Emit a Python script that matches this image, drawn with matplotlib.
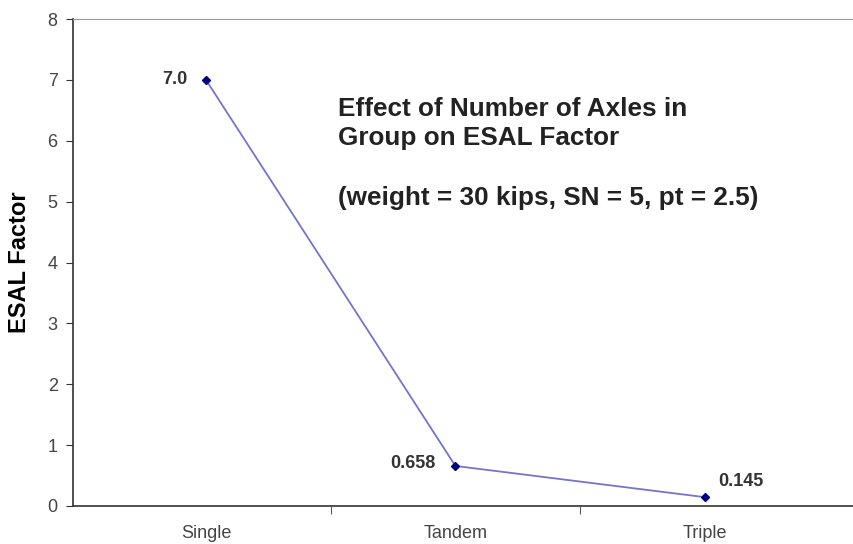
import matplotlib.pyplot as plt

plt.rcParams['font.family'] = ['Liberation Sans', 'DejaVu Sans']

# axle groups and ESAL factors
groups = ['Single', 'Tandem', 'Triple']
esal = [7.0, 0.658, 0.145]
point_labels = ['7.0', '0.658', '0.145']

fig = plt.figure(figsize=(8.54, 5.44), dpi=100)
ax = fig.add_axes([73 / 854, 38 / 544, (862 - 73) / 854, 487 / 544])

x = list(range(len(groups)))
ax.plot(x, esal, color='#7474cc', lw=1.3, marker='D', ms=4.5,
        mfc='#000080', mec='#000080', zorder=3)

# data labels (offsets in points)
offsets = [(-13.5, 0, 'right'), (-14, 2, 'right'), (9.5, 11, 'left')]
for xi, yi, lab, (dx, dy, ha) in zip(x, esal, point_labels, offsets):
    ax.annotate(lab, (xi, yi), xytext=(dx, dy), textcoords='offset points',
                ha=ha, va='center', fontsize=13, fontweight='bold', color='#333333')

ax.set_xlim(-0.533, 2.63)
ax.set_ylim(0, 8)
ax.set_yticks(range(0, 9))
ax.set_xticks(x)
ax.set_xticklabels(groups)
ax.set_xticks([0.5, 1.5], minor=True)
ax.tick_params(axis='x', which='major', length=0, pad=14, labelsize=13, labelcolor='#444444')
ax.tick_params(axis='x', which='minor', length=6, color='#333333', direction='out')
ax.tick_params(axis='y', length=5, color='#333333', labelsize=13, labelcolor='#444444', pad=6)

ax.spines['right'].set_visible(False)
ax.spines['top'].set_color('#999999')
ax.spines['left'].set_color('#333333')
ax.spines['bottom'].set_color('#333333')
ax.spines['left'].set_linewidth(1.2)
ax.spines['bottom'].set_linewidth(1.2)

ax.set_ylabel('ESAL Factor', fontsize=17, fontweight='bold', labelpad=12)

ax.text(0.53, 6.28, 'Effect of Number of Axles in\nGroup on ESAL Factor',
        fontsize=18.8, fontweight='bold', color='#222222', ha='left', va='center',
        linespacing=1.24)
ax.text(0.53, 5.06, '(weight = 30 kips, SN = 5, pt = 2.5)',
        fontsize=18.8, fontweight='bold', color='#222222', ha='left', va='center')

fig.savefig('out.png', dpi=100)
